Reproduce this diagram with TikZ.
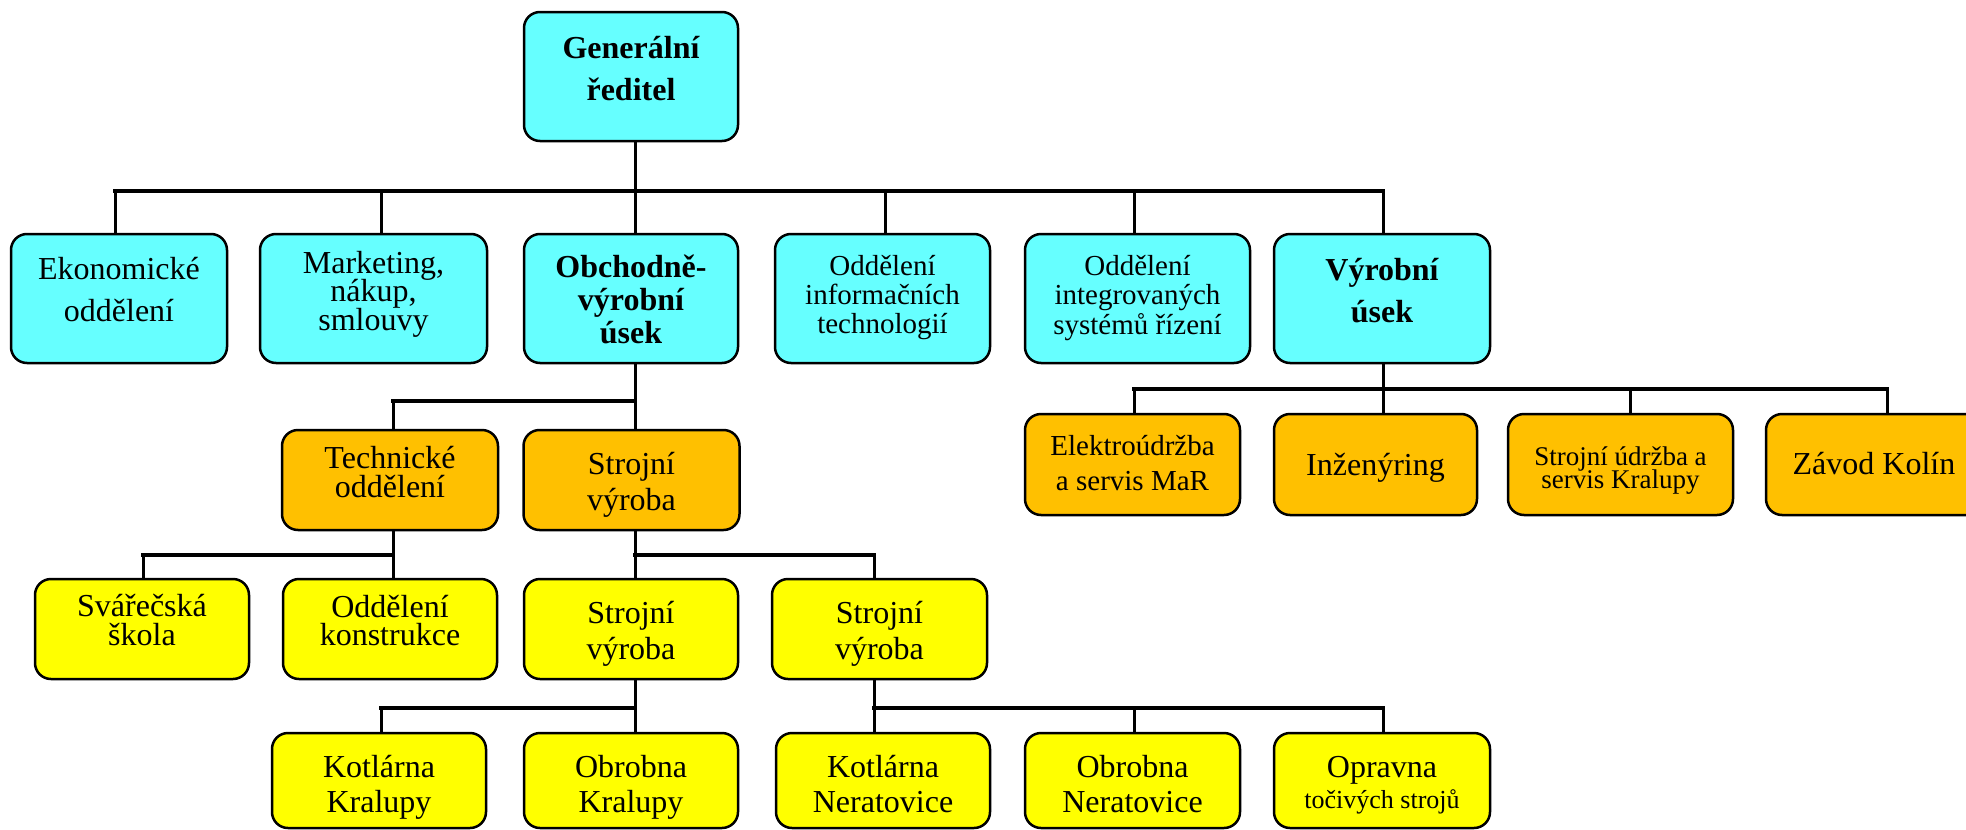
\documentclass[tikz,border=0pt]{standalone}
\usepackage{fontspec}
\setmainfont{Liberation Serif}

\definecolor{cyanfill}{RGB}{102,255,255}
\definecolor{orangefill}{RGB}{255,192,0}
\definecolor{yellowfill}{RGB}{255,255,0}

% #1 width, #2 height, #3 first baseline from top, #4 line distance, #5 lines
\newcommand\boxtext[5]{\parbox[c][#2][t]{#1}{\centering\lineskiplimit=-100pt\baselineskip=#4\relax\rule{0pt}{#3}#5}}

\tikzset{
  unit/.style={draw=black, line width=2.5pt, rounded corners=16pt, inner sep=0pt,
               font=\fontsize{32}{38}\selectfont},
  cyanbox/.style={unit, fill=cyanfill},
  orangebox/.style={unit, fill=orangefill},
  yellowbox/.style={unit, fill=yellowfill},
  bus/.style={line width=4pt, line cap=rect},
  drop/.style={line width=3pt}
}

\begin{document}
\begin{tikzpicture}[x=1pt, y=-1pt]
\useasboundingbox (0,0) rectangle (1966,830);
\clip (0,0) rectangle (1966,830);

% top management
\node[cyanbox] (GR) at (631,76.5)
  {\boxtext{214pt}{129pt}{46pt}{42pt}{\bfseries Generální\\ředitel}};

% divisions
\node[cyanbox] (EK) at (119,298.5)
  {\boxtext{216pt}{129pt}{45pt}{42.5pt}{Ekonomické\\oddělení}};
\node[cyanbox] (MK) at (373.5,298.5)
  {\boxtext{227pt}{129pt}{39pt}{28.7pt}{Marketing,\\nákup,\\smlouvy}};
\node[cyanbox] (OV) at (631,298.5)
  {\boxtext{214pt}{129pt}{43pt}{33.3pt}{\bfseries Obchodně-\\výrobní\\úsek}};
\node[cyanbox, font=\fontsize{29}{35}\selectfont] (OI) at (882.5,298.5)
  {\boxtext{215pt}{129pt}{41pt}{29pt}{Oddělení\\informačních\\technologií}};
\node[cyanbox, font=\fontsize{29}{35}\selectfont] (OS) at (1137.5,298.5)
  {\boxtext{225pt}{129pt}{41pt}{29.5pt}{Oddělení\\integrovaných\\systémů řízení}};
\node[cyanbox] (VU) at (1382,298.5)
  {\boxtext{216pt}{129pt}{46pt}{42pt}{\bfseries Výrobní\\úsek}};

% under the commercial and production division
\node[orangebox] (TO) at (390,480)
  {\boxtext{216pt}{100pt}{38pt}{29pt}{Technické\\oddělení}};
\node[orangebox] (SV) at (631.5,480)
  {\boxtext{216pt}{100pt}{44pt}{36pt}{Strojní\\výroba}};

% under the production division
\node[orangebox, font=\fontsize{29}{35}\selectfont] (EL) at (1132.5,464.5)
  {\boxtext{215pt}{101pt}{41pt}{35pt}{Elektroúdržba\\a servis MaR}};
\node[orangebox] (IN) at (1375.5,464.5)
  {\boxtext{203pt}{101pt}{61pt}{36pt}{Inženýring}};
\node[orangebox, font=\fontsize{27}{32}\selectfont] (SU) at (1620.5,464.5)
  {\boxtext{225pt}{101pt}{51pt}{23.5pt}{Strojní údržba a\\servis Kralupy}};
\node[orangebox] (ZK) at (1874,464.5)
  {\boxtext{216pt}{101pt}{60pt}{36pt}{Závod Kolín}};

% third level
\node[yellowbox] (SS) at (142,629)
  {\boxtext{214pt}{100pt}{37pt}{29pt}{Svářečská\\škola}};
\node[yellowbox] (KO) at (390,629)
  {\boxtext{214pt}{100pt}{38pt}{28.5pt}{Oddělení\\konstrukce}};
\node[yellowbox] (SY) at (631,629)
  {\boxtext{214pt}{100pt}{44pt}{36pt}{Strojní\\výroba}};
\node[yellowbox] (SN) at (879.5,629)
  {\boxtext{215pt}{100pt}{44pt}{36pt}{Strojní\\výroba}};

% workshops
\node[yellowbox] (KK) at (379,780.5)
  {\boxtext{214pt}{95pt}{44pt}{35pt}{Kotlárna\\Kralupy}};
\node[yellowbox] (OK) at (631,780.5)
  {\boxtext{214pt}{95pt}{44pt}{35pt}{Obrobna\\Kralupy}};
\node[yellowbox] (KN) at (883,780.5)
  {\boxtext{214pt}{95pt}{44pt}{35pt}{Kotlárna\\Neratovice}};
\node[yellowbox] (ON) at (1132.5,780.5)
  {\boxtext{215pt}{95pt}{44pt}{35pt}{Obrobna\\Neratovice}};
\node[yellowbox] (OP) at (1382,780.5)
  {\boxtext{216pt}{95pt}{44pt}{31pt}{Opravna\\{\fontsize{26}{31}\selectfont točivých strojů}}};

% bus taps
\coordinate (a1) at (115,191);  \coordinate (a2) at (381,191);
\coordinate (a3) at (635,191);  \coordinate (a4) at (885,191);
\coordinate (a5) at (1134,191); \coordinate (a6) at (1383,191);
\coordinate (b1) at (393,401);  \coordinate (b2) at (635,401);
\coordinate (c1) at (143,555);  \coordinate (c2) at (393,555);
\coordinate (d1) at (635,555);  \coordinate (d2) at (874,555);
\coordinate (e1) at (381,708);  \coordinate (e2) at (635,708);
\coordinate (f1) at (874,708);  \coordinate (f2) at (1134,708);
\coordinate (f3) at (1383,708);
\coordinate (g1) at (1134,389); \coordinate (g2) at (1383,389);
\coordinate (g3) at (1630,389); \coordinate (g4) at (1887,389);

% general director to divisions
\draw[drop] (GR.south -| a3) -- (a3);
\draw[bus] (a1) -- (a6);
\draw[drop] (a1) -- (a1 |- EK.north);
\draw[drop] (a2) -- (a2 |- MK.north);
\draw[drop] (a3) -- (a3 |- OV.north);
\draw[drop] (a4) -- (a4 |- OI.north);
\draw[drop] (a5) -- (a5 |- OS.north);
\draw[drop] (a6) -- (a6 |- VU.north);

% commercial and production division
\draw[drop] (OV.south -| b2) -- (b2);
\draw[bus] (b1) -- (b2);
\draw[drop] (b1) -- (b1 |- TO.north);
\draw[drop] (b2) -- (b2 |- SV.north);

\draw[drop] (TO.south -| c2) -- (c2);
\draw[bus] (c1) -- (c2);
\draw[drop] (c1) -- (c1 |- SS.north);
\draw[drop] (c2) -- (c2 |- KO.north);

\draw[drop] (SV.south -| d1) -- (d1);
\draw[bus] (d1) -- (d2);
\draw[drop] (d1) -- (d1 |- SY.north);
\draw[drop] (d2) -- (d2 |- SN.north);

\draw[drop] (SY.south -| e2) -- (e2);
\draw[bus] (e1) -- (e2);
\draw[drop] (e1) -- (e1 |- KK.north);
\draw[drop] (e2) -- (e2 |- OK.north);

\draw[drop] (SN.south -| f1) -- (f1);
\draw[bus] (f1) -- (f3);
\draw[drop] (f1) -- (f1 |- KN.north);
\draw[drop] (f2) -- (f2 |- ON.north);
\draw[drop] (f3) -- (f3 |- OP.north);

% production division
\draw[drop] (VU.south -| g2) -- (g2);
\draw[bus] (g1) -- (g4);
\draw[drop] (g1) -- (g1 |- EL.north);
\draw[drop] (g2) -- (g2 |- IN.north);
\draw[drop] (g3) -- (g3 |- SU.north);
\draw[drop] (g4) -- (g4 |- ZK.north);
\end{tikzpicture}
\end{document}
